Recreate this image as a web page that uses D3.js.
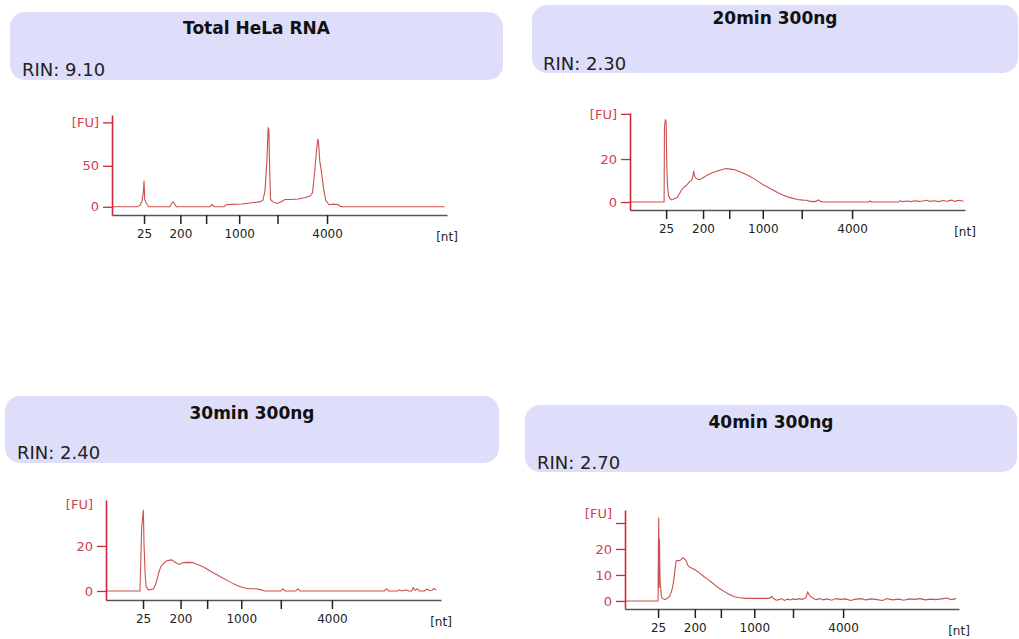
<!DOCTYPE html>
<html>
<head>
<meta charset="utf-8">
<script src="https://cdn.jsdelivr.net/npm/d3@7"></script>
<style>
  body { margin: 0; background: #fff; }
  svg { display: block; font-family: "DejaVu Sans", Verdana, sans-serif; }
</style>
</head>
<body>
<svg id="chart" width="1019" height="639"></svg>
<script>
// ladder: size in nt and its migration time (s)
const ladderNt = [25, 200, 500, 1000, 2000, 4000];
const ladderTime = [24.2, 29.7, 33.6, 38.6, 44.4, 51.9];
const ladderLabels = ["25", "200", "", "1000", "", "4000"];
// shown time window of each run (s)
const timeRanges = [[19.35, 70.06], [18.82, 68.72], [18.77, 67.89], [19.25, 69.25]];

const titles = ["Total HeLa RNA", "20min 300ng", "30min 300ng", "40min 300ng"];
const rins = ["9.10", "2.30", "2.40", "2.70"];

// [FU] axis per panel
const yDomains = [[-10, 112], [-3.7, 41.4], [-4, 40.4], [-3.1, 35]];
const fuTicks = [[0, 50], [0, 20], [0, 20], [0, 10, 20, 30]];
const fuTickLabels = [["0", "50"], ["0", "20"], ["0", "20"], ["0", "10", "20", ""]];
const fuTop = [103, 41, 38.5, 33.8];
const fuHasTick = [true, true, false, false];

// electropherograms: [time (s), FU]
const totalHeLa = [
  [19.35, 0], [23.2, 0], [23.6, 2], [23.9, 7], [24.1, 18], [24.2, 32], [24.3, 9], [24.5, 5], [24.9, 0],
  [28.1, 0], [28.4, 4], [28.6, 6], [28.8, 4], [29.1, 0],
  [34.2, 0], [34.4, 2], [34.5, 3], [34.7, 1], [34.9, 0],
  [36.3, 0], [36.6, 2.5], [37.5, 3], [39.0, 3.5], [40.5, 5], [41.7, 6], [42.2, 8], [42.5, 19],
  [42.8, 57], [43.0, 97], [43.1, 94], [43.2, 50], [43.35, 9], [43.7, 6], [44.3, 4], [44.9, 6],
  [45.5, 9], [46.5, 9], [47.5, 9.5], [48.5, 11], [49.3, 13], [49.7, 17], [50.0, 40], [50.3, 68],
  [50.5, 83], [50.6, 80], [50.8, 56], [51.1, 40], [51.4, 21], [51.7, 8], [52.2, 2.5], [52.6, 3],
  [53.5, 3], [53.9, 0.5], [54.3, 0], [69.7, 0]
];

const min20 = [
  [18.82, 0], [23.9, 0], [23.95, 35], [24.1, 38.5], [24.2, 37], [24.3, 17], [24.4, 8], [24.55, 3],
  [24.8, 1.5], [25.05, 1], [25.4, 1.5], [25.8, 2], [26.2, 4], [26.5, 5.6], [26.9, 7], [27.3, 8],
  [27.7, 9.5], [28.0, 10], [28.2, 12], [28.3, 14.5], [28.45, 12], [28.7, 11], [29.0, 10.5],
  [29.3, 10.5], [29.8, 11.5], [30.3, 12.5], [31.0, 13.5], [31.8, 14.4], [32.5, 15], [33.1, 15.6],
  [33.8, 15.3], [34.4, 15], [35.1, 14.2], [35.8, 13.3], [36.5, 12.2], [37.2, 11], [37.9, 9.6],
  [38.6, 8.2], [39.3, 7], [40.1, 5.6], [40.8, 4.4], [41.6, 3.3], [42.3, 2.4], [43.1, 1.7],
  [43.8, 1.2], [44.6, 0.9], [45.2, 0.8], [45.6, 0.3], [46.4, 0.2], [46.9, 1], [47.2, 0.3],
  [47.6, 0], [54.4, 0], [54.6, 0.5], [54.8, 0], [58.8, 0], [59.1, 0.7], [59.4, 0.2], [60.2, 0.5],
  [60.6, 0.2], [61.3, 0.6], [61.8, 0.3], [62.4, 0.5], [63.0, 0.8], [63.5, 0.3], [64.2, 0.6],
  [64.8, 0.2], [65.5, 0.7], [66.0, 0.4], [66.7, 0.9], [67.2, 0.3], [67.8, 0.8], [68.5, 0.4]
];

const min30 = [
  [18.77, 0], [23.75, 0], [24.0, 28], [24.25, 36], [24.35, 20], [24.4, 16.7], [24.5, 8], [24.65, 2],
  [25.0, 0.5], [25.4, 0.7], [25.7, 1], [26.0, 2.5], [26.2, 4.5], [26.5, 8], [26.8, 10.8],
  [27.2, 12.3], [27.6, 13.3], [28.0, 13.6], [28.4, 13.8], [28.8, 13], [29.2, 12.2], [29.55, 11.8],
  [29.9, 12.4], [30.3, 12.6], [30.9, 12.7], [31.5, 12.6], [32.0, 12], [32.55, 11.3], [33.2, 10.4],
  [33.8, 9.3], [34.4, 8.2], [35.1, 7.1], [35.8, 5.9], [36.6, 4.6], [37.2, 3.6], [37.85, 2.7],
  [38.6, 1.8], [39.3, 1.2], [40.0, 1.0], [40.7, 1.0], [41.4, 0.6], [42.1, 0], [44.4, 0],
  [44.7, 1], [45.0, 0], [46.6, 0], [46.9, 1], [47.2, 0], [59.6, 0], [59.9, 1], [60.2, 0],
  [61.5, 0], [61.8, 0.5], [62.1, 0], [62.8, 0.5], [63.1, 0], [63.6, 0], [63.8, 1.5], [64.1, 0.3],
  [64.4, 1], [64.7, 0], [65.5, 0], [65.8, 0.8], [66.2, 0.2], [66.6, 0.3], [66.8, 1], [67.2, 0.5]
];

const min40 = [
  [19.25, 0], [24.2, 0], [24.25, 20], [24.3, 32], [24.35, 5], [24.4, 24], [24.5, 8], [24.7, 1.5],
  [24.9, 1], [25.2, 0.5], [25.6, 1], [25.9, 1.7], [26.2, 3.5], [26.4, 5.5], [26.6, 9], [26.7, 11.3],
  [26.9, 15.4], [27.2, 15.6], [27.4, 15.5], [27.7, 16], [27.9, 16.7], [28.1, 16.3], [28.4, 15.5],
  [28.6, 14], [28.8, 13.2], [29.3, 12.6], [29.8, 11.9], [30.4, 10.8], [31.05, 9.4], [31.7, 8.2],
  [32.3, 7], [32.9, 5.7], [33.55, 4.5], [34.2, 3.5], [34.8, 2.6], [35.3, 2], [35.8, 1.5],
  [36.5, 1.2], [37.2, 1], [38.5, 1], [40.0, 1], [40.9, 1], [41.2, 1.8], [41.5, 0.8], [41.9, 0.3],
  [42.3, 0.5], [42.7, 0.9], [43.1, 0.2], [43.6, 0.7], [44.0, 0.4], [44.4, 0.8], [44.8, 0.5],
  [45.3, 0.9], [45.8, 0.6], [46.3, 1.2], [46.6, 3.4], [46.9, 2], [47.4, 1], [47.9, 0.5],
  [48.4, 0.9], [48.9, 0.4], [49.5, 0.8], [50.2, 0.3], [50.8, 0.9], [51.5, 0.6], [52.3, 0.8],
  [53.0, 0.2], [53.8, 0.7], [54.6, 0.9], [55.3, 0.4], [56.1, 0.8], [57.0, 0.5], [57.8, 0.2],
  [58.5, 0.9], [59.3, 0.4], [60.2, 0.7], [61.0, 0.3], [61.8, 0.8], [62.6, 0.6], [63.4, 0.9],
  [64.2, 0.4], [65.0, 0.7], [65.8, 0.5], [66.6, 0.8], [67.4, 1.1], [68.1, 0.5], [68.8, 0.9]
];

const traces = [totalHeLa, min20, min30, min40];

// page layout (pixels)
const layout = [
  {box: [10, 12, 493, 68], titleY: 28, rinX: 22, rinY: 76, ax: 112, xAxisY: 215, top: 115, w: 335},
  {box: [532, 5, 486, 68], titleY: 18, rinX: 543, rinY: 70, ax: 630, xAxisY: 210, top: 113, w: 335},
  {box: [5, 396, 494, 67], titleY: 413, rinX: 17, rinY: 459, ax: 106, xAxisY: 600, top: 500, w: 335},
  {box: [525, 405, 492, 67], titleY: 422, rinX: 537, rinY: 469, ax: 625, xAxisY: 609, top: 510, w: 334}
];

const red = "#d0283a";
const svg = d3.select("#chart");

layout.forEach((L, i) => {
  const g = svg.append("g");
  const [bx, by, bw, bh] = L.box;

  g.append("rect")
    .attr("x", bx).attr("y", by)
    .attr("width", bw).attr("height", bh)
    .attr("rx", 15).attr("ry", 15)
    .style("fill", "#dedefa");

  g.append("text")
    .attr("x", bx + bw / 2).attr("y", L.titleY)
    .attr("text-anchor", "middle")
    .attr("dominant-baseline", "central")
    .style("font-size", "17px").style("font-weight", "bold")
    .style("fill", "#111")
    .text(titles[i]);

  g.append("text")
    .attr("x", L.rinX).attr("y", L.rinY)
    .style("font-size", "18px").style("fill", "#222")
    .text("RIN: " + rins[i]);

  const x = d3.scaleLinear().domain(timeRanges[i]).range([L.ax, L.ax + L.w]);
  const y = d3.scaleLinear().domain(yDomains[i]).range([L.xAxisY, L.top]);

  // trace
  g.append("path")
    .datum(traces[i])
    .attr("d", d3.line().x(d => x(d[0])).y(d => y(d[1])))
    .style("fill", "none")
    .style("stroke", "#c9504f")
    .style("stroke-width", 1.1);

  // x axis
  const xa = g.append("g")
    .attr("transform", `translate(0,${L.xAxisY})`)
    .call(d3.axisBottom(x)
      .tickValues(ladderTime)
      .tickFormat((d, k) => ladderLabels[k])
      .tickSize(9).tickSizeOuter(0).tickPadding(5));
  xa.select(".domain").style("stroke", "#555").style("stroke-width", 1.5);
  xa.selectAll(".tick line").style("stroke", "#222").style("stroke-width", 1.5);
  xa.selectAll(".tick text")
    .style("font-size", "12px").style("fill", "#222")
    .style("font-family", "DejaVu Sans, sans-serif");

  g.append("text")
    .attr("x", L.ax + L.w).attr("y", L.xAxisY + 26)
    .attr("text-anchor", "middle")
    .style("font-size", "12px").style("fill", "#222")
    .text("[nt]");

  // y axis
  const tv = fuTicks[i].concat([fuTop[i]]);
  const tl = fuTickLabels[i].concat(["[FU]"]);
  const ya = g.append("g")
    .attr("transform", `translate(${L.ax},0)`)
    .call(d3.axisLeft(y)
      .tickValues(tv)
      .tickFormat((d, k) => tl[k])
      .tickSize(9).tickSizeOuter(0).tickPadding(4));
  ya.select(".domain").style("stroke", red).style("stroke-width", 1.6);
  ya.selectAll(".tick line").style("stroke", red).style("stroke-width", 1.3)
    .filter((d, k) => k === tv.length - 1 && !fuHasTick[i]).remove();
  ya.selectAll(".tick text")
    .style("font-size", "13px").style("fill", "#d0404e")
    .style("font-family", "DejaVu Sans, sans-serif");
});
</script>
</body>
</html>
